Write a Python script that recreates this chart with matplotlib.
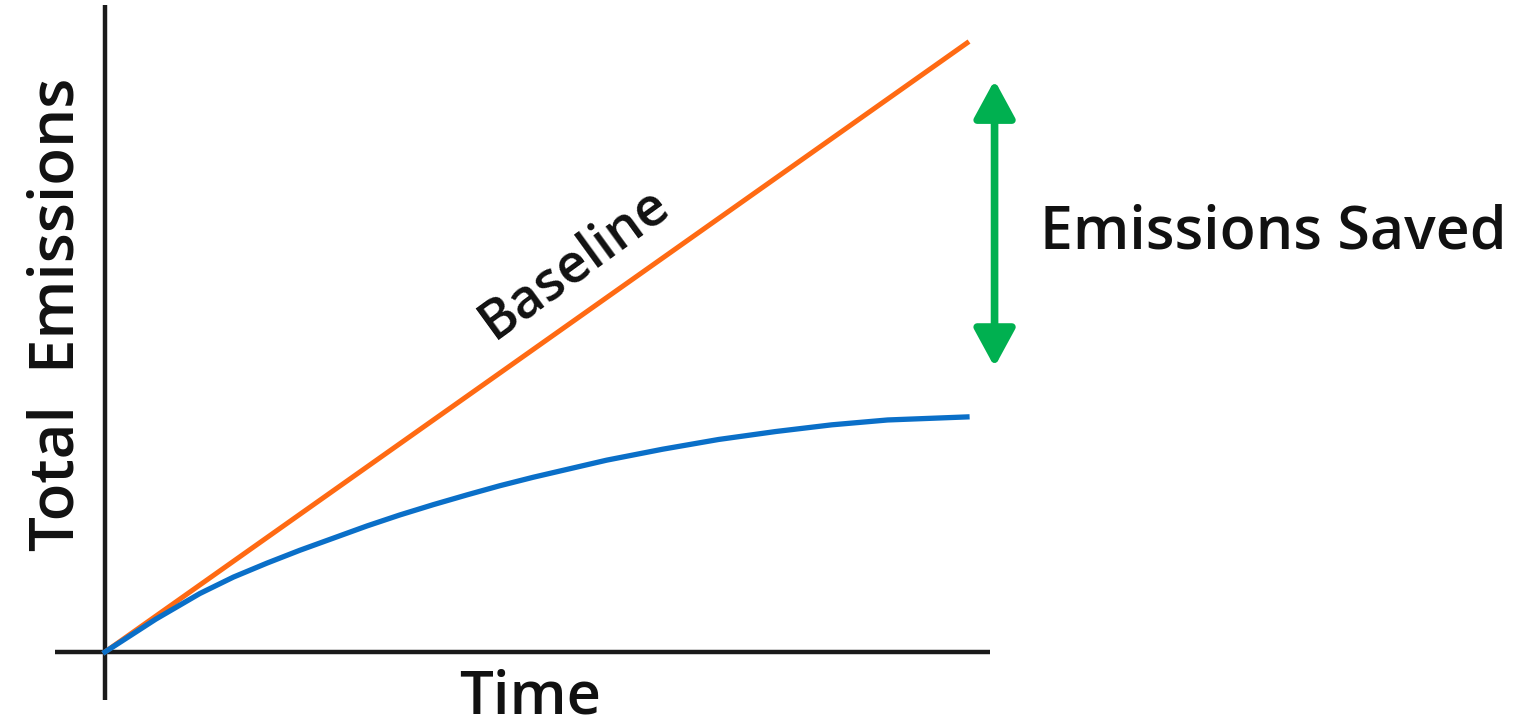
import matplotlib.pyplot as plt

# schematic values
time_baseline = [0, 10]
emis_baseline = [0, 100]

time_reduced = [0, 0.59, 1.10, 1.49, 1.88, 2.26, 2.65, 3.04, 3.42, 3.81, 4.20,
                4.58, 4.97, 5.82, 6.47, 7.12, 7.78, 8.43, 9.08, 10]
emis_reduced = [0, 5.4, 9.6, 12.3, 14.6, 16.7, 18.7, 20.7, 22.5, 24.2, 25.8,
                27.3, 28.7, 31.5, 33.3, 34.9, 36.2, 37.3, 38.1, 38.6]

saved_time = 10.32
saved_top = 93.9
saved_bottom = 46.8

plt.rcParams['font.family'] = ['Open Sans', 'DejaVu Sans']

fig = plt.figure(figsize=(15.37, 7.28), dpi=100)
ax = fig.add_axes([0, 0, 1, 1])
ax.axis('off')
ax.set_xlim(-1.218, 16.613)
ax.set_ylim(-12.48, 107.06)

# axis lines
ax.plot([0, 0], [-7.9, 106.2], color='#1a1a1a', lw=3.2, solid_capstyle='butt')
ax.plot([-0.58, 10.27], [0, 0], color='#1a1a1a', lw=3.2, solid_capstyle='butt')

ax.plot(time_baseline, emis_baseline, color='#FF6A13', lw=3.6)
ax.plot(time_reduced, emis_reduced, color='#0A6FC8', lw=3.8, solid_joinstyle='round')

ax.annotate('', xy=(saved_time, saved_top), xytext=(saved_time, saved_bottom),
            arrowprops=dict(arrowstyle='<|-|>,head_length=2.3,head_width=1.25',
                            color='#00B050', lw=5.5, mutation_scale=10,
                            shrinkA=0, shrinkB=0))

ax.text(10.85, 66.3, 'Emissions Saved', fontsize=42.5, fontweight='semibold',
        va='baseline', ha='left', color='#111111')
ax.text(4.93, -12.4, 'Time', fontsize=43, fontweight='semibold',
        va='bottom', ha='center', color='#111111')
ax.text(-0.371, 55.5, 'Total  Emissions', fontsize=44.5, fontweight='semibold', rotation=90,
        rotation_mode='anchor', ha='center', va='baseline', color='#111111')
ax.text(5.45, 63.8, 'Baseline', fontsize=39, fontweight='semibold', rotation=36,
        rotation_mode='anchor', ha='center', va='center', color='#111111')

plt.savefig('out.png', dpi=100)
